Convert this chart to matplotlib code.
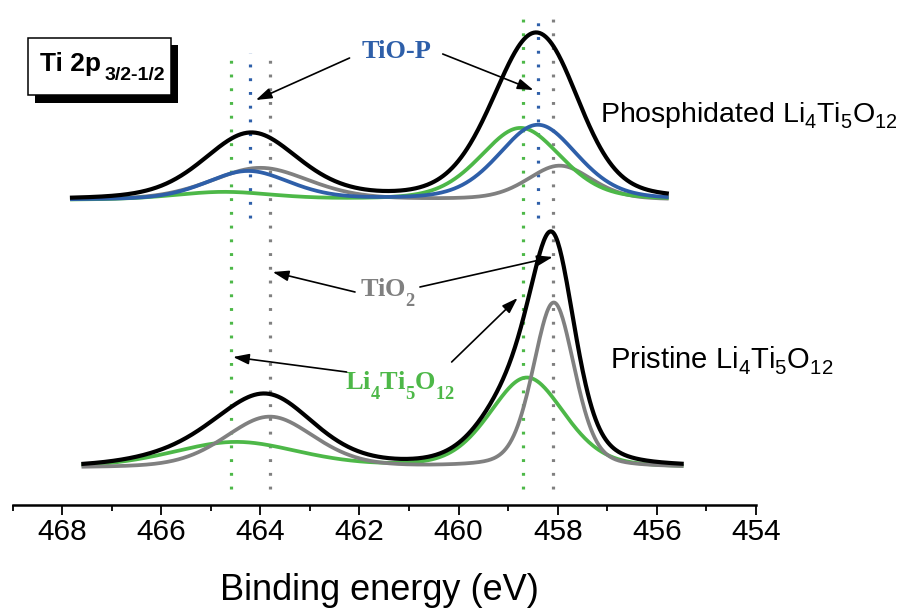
import numpy as np
import matplotlib
matplotlib.use("Agg")
import matplotlib.pyplot as plt
import matplotlib._mathtext as mathtext_internal
from matplotlib.patches import Rectangle

plt.rcParams['font.family'] = 'Liberation Sans'
plt.rcParams['mathtext.fontset'] = 'custom'
plt.rcParams['mathtext.rm'] = 'Liberation Sans'
plt.rcParams['mathtext.bf'] = 'Liberation Serif:bold'
plt.rcParams['mathtext.default'] = 'rm'


# deeper subscripts for the bold serif (Times-like) labels, as in the original
class SerifConstants(mathtext_internal.FontConstantsBase):
    sub1 = 0.85


class SansConstants(mathtext_internal.FontConstantsBase):
    sub1 = 0.4


try:
    mathtext_internal._font_constant_mapping['Liberation Serif'] = SerifConstants
    mathtext_internal._font_constant_mapping['Liberation Sans'] = SansConstants
except AttributeError:
    pass

GREEN = '#4db848'
BLUE = '#2e5fa9'
GRAY = '#808080'

# fitted Ti 2p components: (center eV, height, FWHM eV) for 2p3/2 and 2p1/2
GL_MIX = 0.3
phos_range = (467.8, 455.8)
phos_offset = 305
phos_tio2 = [(457.96, 34, 1.53), (464.0, 32, 2.35)]
phos_lto = [(458.75, 72, 1.93), (464.75, 7.6, 2.35)]
phos_tiop = [(458.40, 75, 1.88), (464.25, 28.5, 2.0)]

pris_range = (467.57, 455.5)
pris_offset = 37
pris_tio2 = [(458.08, 165, 0.99), (463.81, 51, 2.14)]
pris_lto = [(458.62, 90, 1.79), (464.5, 25.5, 3.06)]

# peak positions marked by dotted lines
lto_pos = [464.6, 458.7]
tiop_pos = [464.2, 458.4]
tio2_pos = [463.8, 458.1]

xticks = [468, 466, 464, 462, 460, 458, 456, 454]


def component(x, peaks):
    # pseudo-Voigt (Gaussian-Lorentzian sum) line shape
    y = np.zeros_like(x)
    for c, h, fw in peaks:
        u = (x - c) / fw
        gauss = np.exp(-4 * np.log(2) * u ** 2)
        lor = 1 / (1 + 4 * u ** 2)
        y += h * ((1 - GL_MIX) * gauss + GL_MIX * lor)
    return y


fig = plt.figure(figsize=(9.04, 6.10), dpi=100)
W, H = 904, 610
ax = fig.add_axes([12.5 / W, 1 - 505 / H, 743.5 / W, 505 / H])
ax.set_xlim(469, 454)
ax.set_ylim(0, 505)

# dotted reference lines
dot = (0, (0.9, 3.4))
for e in lto_pos:
    top = 452 if e > 461 else 493
    ax.plot([e, e], [16, top], color=GREEN, lw=2.3, ls=dot, zorder=1)
for e in tio2_pos:
    top = 452 if e > 461 else 493
    ax.plot([e, e], [16, top], color=GRAY, lw=2.3, ls=dot, zorder=1)
for e in tiop_pos:
    top = 452 if e > 461 else 493
    ax.plot([e, e], [287, top], color=BLUE, lw=2.3, ls=dot, zorder=1)

# phosphidated spectrum
x = np.linspace(phos_range[0], phos_range[1], 600)
g = component(x, phos_tio2)
l = component(x, phos_lto)
p = component(x, phos_tiop)
ax.plot(x, phos_offset + g, color=GRAY, lw=2.7, zorder=2)
ax.plot(x, phos_offset + l, color=GREEN, lw=2.7, zorder=2)
ax.plot(x, phos_offset + p, color=BLUE, lw=2.7, zorder=2)
ax.plot(x, phos_offset + g + l + p, color='black', lw=3.0, zorder=3)

# pristine spectrum
x = np.linspace(pris_range[0], pris_range[1], 600)
g = component(x, pris_tio2)
l = component(x, pris_lto)
ax.plot(x, pris_offset + l, color=GREEN, lw=2.7, zorder=2)
ax.plot(x, pris_offset + g, color=GRAY, lw=2.7, zorder=2)
ax.plot(x, pris_offset + g + l, color='black', lw=3.0, zorder=3)

# labels and arrows
arrow = dict(arrowstyle='-|>,head_length=0.6,head_width=0.2', color='black',
             lw=1.2, mutation_scale=16, shrinkA=0, shrinkB=0)
ax.text(461.25, 453, 'TiO-P', color=BLUE, fontsize=19, fontweight='bold',
        family='Liberation Serif', ha='center', va='center')
ax.annotate('', xy=(464.09, 405), xytext=(462.2, 447), arrowprops=arrow)
ax.annotate('', xy=(458.49, 415), xytext=(460.32, 451), arrowprops=arrow)

ax.text(461.43, 208, r'$\mathbf{TiO_2}$', color=GRAY, fontsize=19,
        ha='center', va='baseline')
ax.annotate('', xy=(463.75, 233), xytext=(462.09, 213), arrowprops=arrow)
ax.annotate('', xy=(458.10, 248), xytext=(460.78, 218), arrowprops=arrow)

ax.text(461.17, 115, r'$\mathbf{Li_4Ti_5O_{12}}$', color=GREEN, fontsize=19,
        ha='center', va='baseline')
ax.annotate('', xy=(464.55, 148), xytext=(462.26, 133), arrowprops=arrow)
ax.annotate('', xy=(458.81, 207), xytext=(460.14, 143), arrowprops=arrow)

ax.text(457.14, 383.3, r'Phosphidated Li$_4$Ti$_5$O$_{12}$', fontsize=20.5,
        ha='left', va='baseline')
ax.text(456.95, 136.7, r'Pristine Li$_4$Ti$_5$O$_{12}$', fontsize=21,
        ha='left', va='baseline')

# axis styling
for s in ['left', 'right', 'top']:
    ax.spines[s].set_visible(False)
ax.spines['bottom'].set_linewidth(1.8)
ax.set_yticks([])
ax.set_xticks(xticks)
ax.set_xticks(np.arange(469, 453, -1), minor=True)
ax.tick_params(axis='x', which='major', direction='out', length=7.2, width=1.3,
               labelsize=21.5, pad=2)
ax.tick_params(axis='x', which='minor', direction='out', length=4.2, width=1.3)
ax.set_xlabel('Binding energy (eV)', fontsize=26)
ax.xaxis.set_label_coords(0.494, -0.188)
ax.xaxis.label.set_verticalalignment('baseline')

# Ti 2p box with shadow
bx, by, bw, bh, sh = 28, 38, 143, 57, 7.5
fig.add_artist(Rectangle(((bx + sh) / W, 1 - (by + bh + sh) / H), bw / W, bh / H,
                         transform=fig.transFigure, facecolor='black',
                         edgecolor='black', lw=0))
fig.add_artist(Rectangle((bx / W, 1 - (by + bh) / H), bw / W, bh / H,
                         transform=fig.transFigure, facecolor='white',
                         edgecolor='black', lw=1.1))
fig.text(40 / W, 1 - 70.7 / H, 'Ti 2p', fontsize=19, fontweight='bold',
         va='baseline')
fig.text(105 / W, 1 - 80 / H, '3/2-1/2', fontsize=14, fontweight='bold',
         va='baseline')

fig.savefig('out.png', dpi=100)
